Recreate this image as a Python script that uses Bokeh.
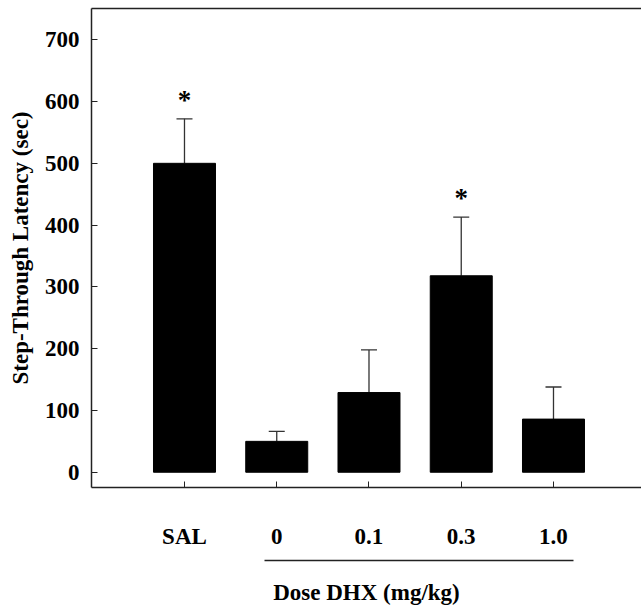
from bokeh.plotting import figure
from bokeh.models import (ColumnDataSource, Range1d, LinearAxis, FixedTicker,
                          Whisker, TeeHead)
from bokeh.core.properties import value
from bokeh.embed import file_html
from bokeh.resources import INLINE

# ---- data ----
groups = ["SAL", "0", "0.1", "0.3", "1.0"]
latency = [500, 50, 129, 318, 86]
sem = [72, 16, 69, 95, 52]
significant = [True, False, False, True, False]
y_ticks = [0, 100, 200, 300, 400, 500, 600, 700]

xpos = list(range(1, len(groups) + 1))
tops = [m + e for m, e in zip(latency, sem)]

FONT = "Liberation Serif"
TICK_FS = "23px"

p = figure(width=641, height=607, output_backend="svg", toolbar_location=None,
           x_range=Range1d(-0.008, 5.954), y_range=Range1d(-24.7, 750.6),
           x_axis_location=None, y_axis_location=None,
           min_border_left=91, min_border_right=0, min_border_top=8,
           min_border_bottom=0)
p.grid.visible = False
p.outline_line_color = None
p.background_fill_color = "white"
p.border_fill_color = "white"

src = ColumnDataSource(dict(x=xpos, top=latency, upper=tops, lower=latency,
                            lab=groups))
p.vbar(x="x", top="top", bottom=0, width=0.672, source=src,
       fill_color="black", line_color="black")

p.add_layout(Whisker(base="x", upper="upper", lower="lower", source=src,
                     dimension="height", line_color="#333333", line_width=1.3,
                     upper_head=TeeHead(size=16, line_color="#333333", line_width=1.3),
                     lower_head=None))

sx = [x for x, s in zip(xpos, significant) if s]
sy = [t for t, s in zip(tops, significant) if s]
p.text(x=sx, y=sy, text=["*"] * len(sx), text_align="center",
       text_baseline="alphabetic", y_offset=-19,
       text_font=value(FONT), text_font_style="bold", text_font_size="27px",
       text_color="black")

# left axis
yaxis = LinearAxis(ticker=FixedTicker(ticks=y_ticks))
yaxis.axis_label = "Step-Through Latency (sec)"
yaxis.major_tick_in = 6
yaxis.major_tick_out = 0
yaxis.minor_tick_line_color = None
yaxis.major_label_standoff = 12
yaxis.major_label_text_font = FONT
yaxis.major_label_text_font_style = "bold"
yaxis.major_label_text_font_size = TICK_FS
yaxis.major_label_text_color = "black"
yaxis.axis_label_text_font = FONT
yaxis.axis_label_text_font_style = "bold"
yaxis.axis_label_text_font_size = "23px"
yaxis.axis_label_text_color = "black"
yaxis.axis_label_standoff = 9
yaxis.axis_line_width = 1.5
yaxis.axis_line_color = "#222222"
yaxis.major_tick_line_color = "#222222"
p.add_layout(yaxis, "left")

# top border
topaxis = LinearAxis(ticker=FixedTicker(ticks=[]), major_tick_in=0,
                     major_tick_out=0, minor_tick_line_color=None,
                     major_label_text_font_size="0px", axis_line_width=1.5,
                     axis_line_color="#222222")
p.add_layout(topaxis, "above")

# bottom axis with group labels
xaxis = LinearAxis(ticker=FixedTicker(ticks=xpos),
                   major_label_overrides={x: g for x, g in zip(xpos, groups)})
xaxis.major_tick_in = 6
xaxis.major_tick_out = 0
xaxis.minor_tick_line_color = None
xaxis.major_label_standoff = 36
xaxis.major_label_text_font = FONT
xaxis.major_label_text_font_style = "bold"
xaxis.major_label_text_font_size = TICK_FS
xaxis.major_label_text_color = "black"
xaxis.axis_line_width = 1.5
xaxis.axis_line_color = "#222222"
xaxis.major_tick_line_color = "#222222"
p.add_layout(xaxis, "below")

# spacer between the labels and the dose underline
spacer = LinearAxis(ticker=FixedTicker(ticks=[]), major_tick_in=0,
                    major_tick_out=0, major_tick_line_color=None,
                    minor_tick_line_color=None, axis_line_color=None,
                    major_label_text_font_size="0px",
                    axis_label=" ", axis_label_standoff=0,
                    axis_label_text_font_size="6px")
p.add_layout(spacer, "below")

# underline spanning the DHX doses, with title
dose_axis = LinearAxis(ticker=FixedTicker(ticks=[]), bounds=(1.87, 5.22),
                       major_tick_in=0, major_tick_out=0,
                       minor_tick_line_color=None,
                       major_label_text_font_size="0px",
                       axis_line_width=1.3, axis_line_color="#222222")
dose_axis.axis_label = "Dose DHX (mg/kg)"
dose_axis.axis_label_text_font = FONT
dose_axis.axis_label_text_font_style = "bold"
dose_axis.axis_label_text_font_size = TICK_FS
dose_axis.axis_label_text_color = "black"
dose_axis.axis_label_standoff = 19
p.add_layout(dose_axis, "below")

open("out.html", "w").write(file_html(p, INLINE))
